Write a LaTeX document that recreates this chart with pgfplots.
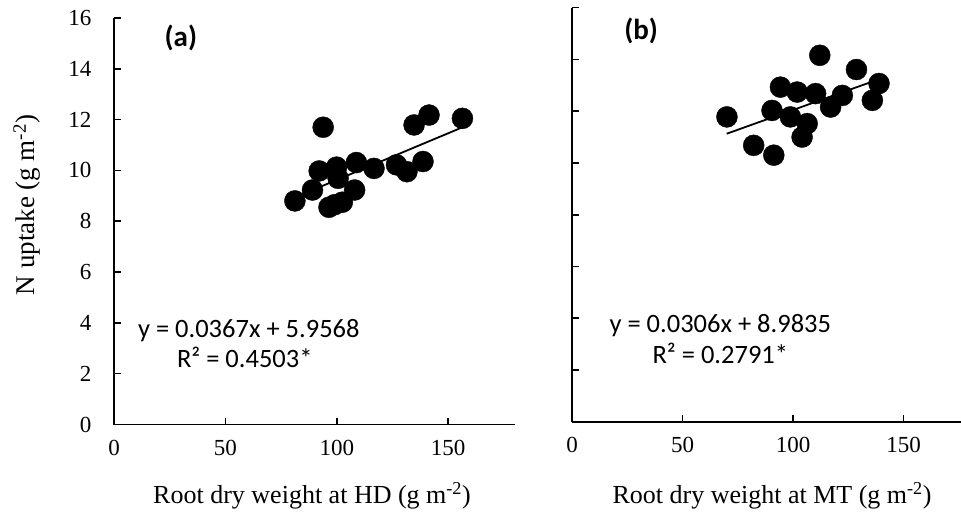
\documentclass[border=0pt]{standalone}
\usepackage{pgfplots}
\pgfplotsset{compat=1.18}
\usepackage{fontspec}
\setmainfont{Liberation Serif}
\newfontfamily\calibri{Carlito}

\pgfplotstableread{
x y
81.2 8.80
89.1 9.23
92.1 9.98
93.9 11.70
96.5 8.55
99.0 8.65
102.5 8.75
99.9 10.13
100.6 9.69
108.0 9.23
108.8 10.31
116.7 10.08
126.8 10.22
131.5 9.95
134.7 11.79
138.7 10.35
141.4 12.18
156.4 12.05
}\dataA

\pgfplotstableread{
x y
70.1 11.78
82.2 10.68
91.3 10.30
90.5 12.03
94.3 12.93
98.8 11.78
101.9 12.74
104.1 11.00
106.4 11.52
110.2 12.68
112.1 14.16
117.0 12.16
122.3 12.61
128.7 13.61
135.9 12.42
138.9 13.07
}\dataB

\pgfplotsset{
  myax/.style={
    scale only axis,
    axis lines=left,
    axis line style={-, line width=1.8pt},
    tick align=inside,
    major tick length=7pt,
    every tick/.style={black, line width=1.6pt},
    xmin=0, ymin=0, ymax=16,
    ytick={0,2,...,16},
    xtick={0,50,100,150},
    tick label style={font=\fontsize{23}{23}\selectfont},
    xticklabel style={yshift=-12pt},
    yticklabel style={xshift=-19pt},
    /pgf/number format/assume math mode=true,
    clip=false,
  },
  dots/.style={only marks, mark=*, mark size=10.5pt, black, mark options={fill=black, draw=black}},
  fit/.style={black, line width=1.8pt, no marks},
}

\begin{document}
\begin{tikzpicture}
\useasboundingbox (0pt,0pt) rectangle (961pt,515pt);

\begin{axis}[myax, at={(114pt,90.5pt)}, anchor=south west,
  width=401pt, height=406.5pt, xmax=180]
  \addplot[dots] table[x=x,y=y] {\dataA};
  \addplot[fit] coordinates {(81,8.93) (157,11.72)};
  \node[font=\calibri\bfseries\fontsize{29}{29}\selectfont] at (axis cs:30,15.2) {(a)};
  \node[font=\calibri\fontsize{26.5}{26.5}\selectfont] at (axis cs:60.5,3.68) {y = 0.0367x + 5.9568};
  \node[font=\calibri\fontsize{26.5}{26.5}\selectfont] at (axis cs:58.7,2.66) {R² = 0.4503*};
\end{axis}

\begin{axis}[myax, at={(572pt,93.3pt)}, anchor=south west,
  width=389pt, height=414pt, xmax=176, yticklabels={}]
  \addplot[dots] table[x=x,y=y] {\dataB};
  \addplot[fit] coordinates {(70,11.13) (139,13.24)};
  \node[font=\calibri\bfseries\fontsize{29}{29}\selectfont] at (axis cs:31.3,15.1) {(b)};
  \node[font=\calibri\fontsize{26.5}{26.5}\selectfont] at (axis cs:67.1,3.73) {y = 0.0306x + 8.9835};
  \node[font=\calibri\fontsize{26.5}{26.5}\selectfont] at (axis cs:67.1,2.65) {R² = 0.2791*};
\end{axis}

\node[rotate=90, font=\fontsize{27}{27}\selectfont] at (27pt,310pt) {N uptake (g m\textsuperscript{-2})};
\node[font=\fontsize{26}{26}\selectfont] at (312pt,19pt) {Root dry weight at HD (g m\textsuperscript{-2})};
\node[font=\fontsize{26}{26}\selectfont] at (772pt,19pt) {Root dry weight at MT (g m\textsuperscript{-2})};
\end{tikzpicture}
\end{document}
